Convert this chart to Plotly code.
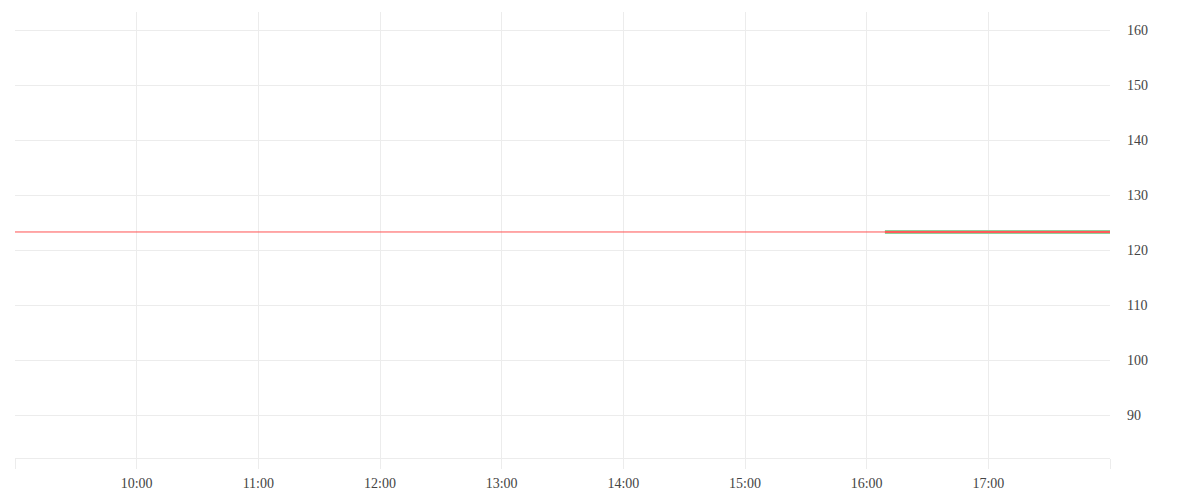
import plotly.graph_objects as go

# price data (one session)
times = ["2024-01-02 09:00", "2024-01-02 18:00"]
price = [123.3, 123.3]

seg_times = ["2024-01-02 16:09", "2024-01-02 18:00"]
seg_price = [123.3, 123.3]

tick_vals = ["2024-01-02 %02d:00" % h for h in range(9, 19)]
tick_text = ["", "10:00", "11:00", "12:00", "13:00", "14:00", "15:00", "16:00", "17:00", ""]

y_range = [82.2, 163.3]

grid = "#ececec"

fig = go.Figure()
fig.add_trace(go.Scatter(x=times, y=price, mode="lines",
                         line=dict(color="#ff5252", width=1), hoverinfo="skip"))
fig.add_trace(go.Scatter(x=seg_times, y=seg_price, mode="lines",
                         line=dict(color="#8fd09a", width=4), hoverinfo="skip"))
fig.add_trace(go.Scatter(x=seg_times, y=seg_price, mode="lines",
                         line=dict(color="#ff5a5a", width=2), hoverinfo="skip"))

fig.update_layout(
    width=1200, height=500,
    margin=dict(l=7, r=98, t=4, b=50),
    plot_bgcolor="white", paper_bgcolor="white",
    showlegend=False,
    font=dict(family="Liberation Serif", size=14, color="#444"),
)
fig.update_xaxes(
    type="date", range=[tick_vals[0], tick_vals[-1]],
    tickvals=tick_vals, ticktext=tick_text,
    showgrid=True, gridcolor=grid, gridwidth=1,
    ticks="outside", ticklen=10, tickcolor=grid,
    showline=True, linecolor=grid, linewidth=1,
    zeroline=False, ticklabelstandoff=2,
)
fig.update_yaxes(
    side="right", range=y_range, dtick=10,
    showgrid=True, gridcolor=grid, gridwidth=1,
    zeroline=False, ticks="", ticklabelstandoff=16,
)

fig.write_html("out.html")
